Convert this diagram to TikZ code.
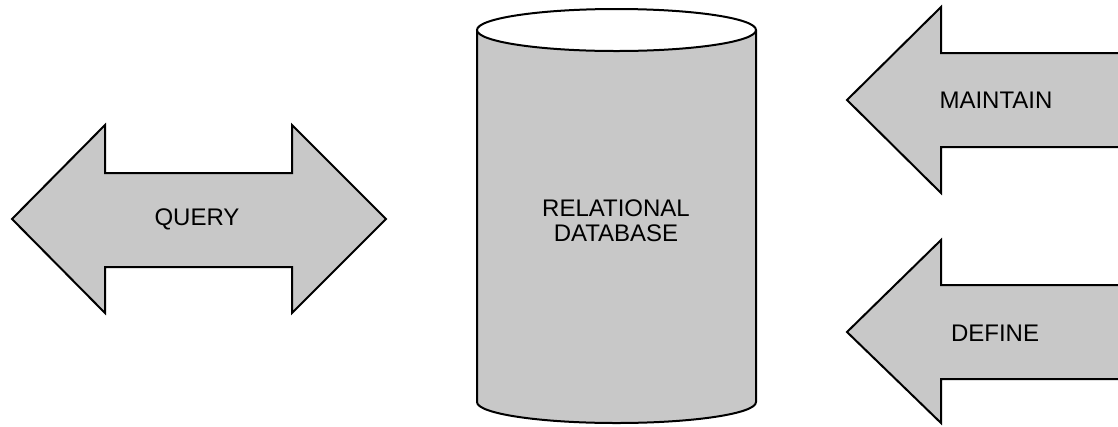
\documentclass[tikz,border=0pt]{standalone}
\usepackage{fontspec}
\setmainfont{Liberation Sans}
\definecolor{dbgray}{RGB}{200,200,200}

\begin{document}
\begin{tikzpicture}[x=0.75pt,y=0.75pt,yscale=-1,xscale=1]
\useasboundingbox (0,0) rectangle (1118,426);
\tikzset{shape line/.style={line width=1.5pt, line join=miter},
  label text/.style={inner sep=0.75pt, font=\fontsize{18}{19}\selectfont}}

%Shape: Double Arrow
\draw [shape line, fill=dbgray] (12,219) -- (105,125) -- (105,173) -- (292,173) -- (292,125) -- (386,219) -- (292,313) -- (292,267) -- (105,267) -- (105,313) -- cycle ;
%Shape: Can
\fill [dbgray] (477,30) -- (477,402) arc [start angle=180, end angle=0, x radius=139.5, y radius=21] -- (756,30) -- cycle ;
\draw [shape line] (477,30) -- (477,402) arc [start angle=180, end angle=0, x radius=139.5, y radius=21] -- (756,30) ;
\draw [shape line, fill=white] (616.5,30) ellipse [x radius=139.5, y radius=21] ;
%Shape: Left Arrow
\fill [dbgray] (847,100) -- (941,7) -- (941,53) -- (1125,53) -- (1125,147) -- (941,147) -- (941,193) -- cycle ;
\draw [shape line] (1125,53) -- (941,53) -- (941,7) -- (847,100) -- (941,193) -- (941,147) -- (1125,147) ;
%Shape: Left Arrow
\fill [dbgray] (847,332) -- (941,240) -- (941,285) -- (1125,285) -- (1125,379) -- (941,379) -- (941,423) -- cycle ;
\draw [shape line] (1125,285) -- (941,285) -- (941,240) -- (847,332) -- (941,423) -- (941,379) -- (1125,379) ;

% Text Node
\draw (197,219) node (query) [label text] {QUERY};
% Text Node
\draw (616,221) node (rdb) [label text, font=\fontsize{18}{18.75}\selectfont] [align=center] {RELATIONAL\\DATABASE};
% Text Node
\draw (996,100) node (maintain) [label text] {MAINTAIN};
% Text Node
\draw (995,333) node (define) [label text] {DEFINE};

\end{tikzpicture}
\end{document}
